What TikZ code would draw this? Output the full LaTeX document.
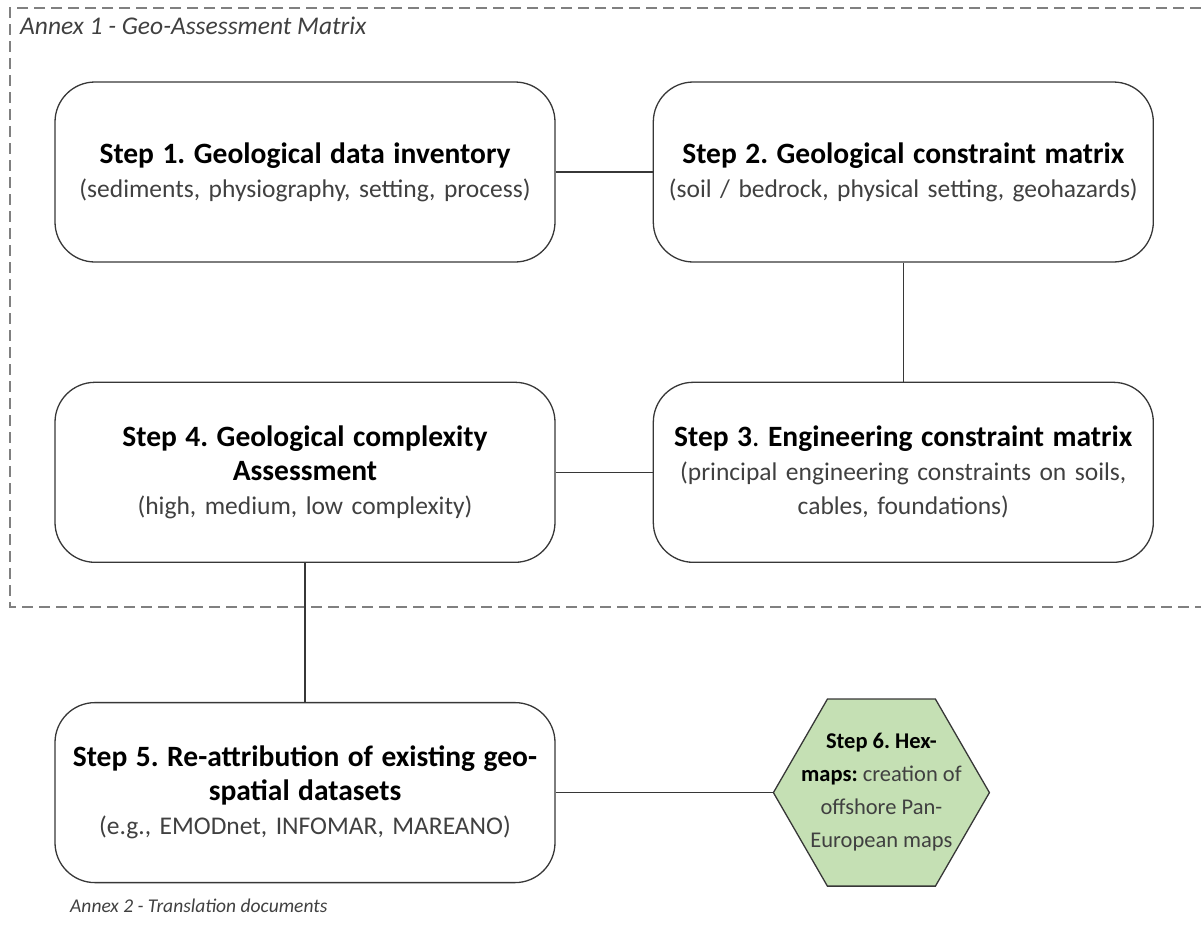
\documentclass[tikz,border=0pt]{standalone}
\usepackage{fontspec}
\setmainfont{Carlito}
\usetikzlibrary{positioning,shapes.geometric}

\definecolor{hexgreen}{RGB}{197,224,180}
\definecolor{edgegray}{RGB}{55,55,55}
\definecolor{notegray}{RGB}{64,64,64}
\definecolor{dashgray}{RGB}{128,128,128}

\newcommand{\steptitle}[1]{{\fontsize{29.5}{36}\selectfont\bfseries\color{black}#1}}
\frenchspacing

\begin{document}
\begin{tikzpicture}[
  x=1pt,y=1pt,
  node distance=119pt and 97pt,
  stepbox/.style={draw=edgegray,line width=1.3pt,rounded corners=40pt,minimum width=500pt,minimum height=180pt,
    text width=486pt,inner sep=4pt,align=center,text=notegray,font=\fontsize{25.5}{34}\selectfont},
  hexstep/.style={draw=edgegray,line width=1.3pt,fill=hexgreen,regular polygon,regular polygon sides=6,
    minimum size=216pt,inner sep=0pt},
  hextext/.style={align=center,text=notegray,font=\fontsize{22.5}{33}\selectfont},
  link/.style={draw=edgegray,line width=1.2pt},
  frame/.style={draw=dashgray,line width=2.5pt,dash pattern=on 11pt off 6pt},
  annex/.style={anchor=base west,inner sep=0pt,text=notegray,font=\itshape}
]
  \useasboundingbox (0,0) rectangle (1201,-927);

  % annex 1 frame
  \draw[frame] (1201,-8) -- (10,-8) -- (10,-607) -- (1201,-607);
  \node[annex,font=\fontsize{25.5}{28}\selectfont\itshape] (annexA) at (20,-34) {Annex 1 - Geo-Assessment Matrix};

  \node[stepbox] (s1) at (305,-172)
    {\steptitle{Step 1. Geological data inventory}\\(sediments, physiography, setting, process)};
  \node[stepbox,right=of s1] (s2)
    {\steptitle{Step 2. Geological constraint matrix}\\(soil / bedrock, physical setting, geohazards)};
  \node[stepbox,below=of s1] (s4)
    {\steptitle{Step 4. Geological complexity\\Assessment}\\(high, medium, low complexity)};
  \node[stepbox,right=of s4] (s3)
    {\steptitle{Step 3{\mdseries.} Engineering constraint matrix}\\(principal engineering constraints on soils,\\cables, foundations)};
  \node[stepbox,below=139pt of s4] (s5)
    {\steptitle{Step 5. Re-attribution of existing geo-\\spatial datasets}\\(e.g., EMODnet, INFOMAR, MAREANO)};
  \node[hexstep,right=217pt of s5] (s6) {};
  \node[hextext] (s6text) at (s6)
    {\textbf{\color{black}Step 6. Hex-}\\\textbf{\color{black}maps:} creation of\\offshore Pan-\\European maps};

  \node[annex,font=\fontsize{19.5}{22}\selectfont\itshape] (annexB) at (70,-912) {Annex 2 - Translation documents};

  \draw[link] (s1) -- (s2);
  \draw[link] (s2) -- (s3);
  \draw[link] (s4) -- (s3);
  \draw[link] (s4) -- (s5);
  \draw[link] (s5) -- (s6);
\end{tikzpicture}
\end{document}
